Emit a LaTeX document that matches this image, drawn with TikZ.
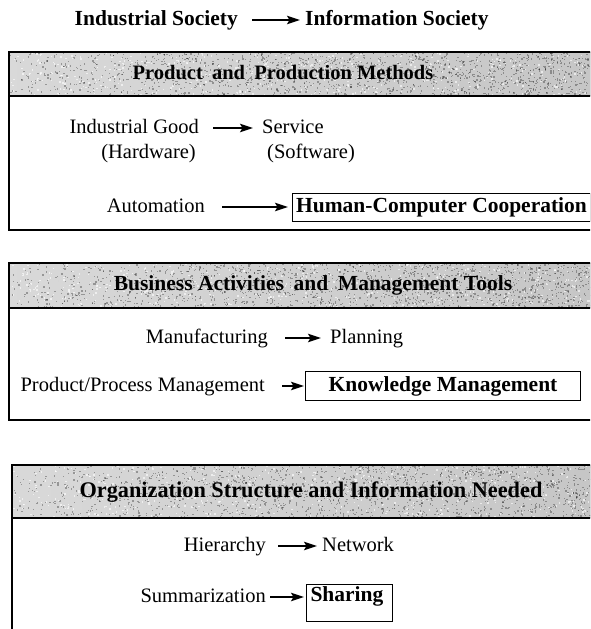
\documentclass[tikz,border=0pt]{standalone}
\usepackage{fontspec}
\setmainfont{Liberation Serif}
\usetikzlibrary{arrows.meta}

% grainy grey band behind a panel heading: #1 left x, #2 top y, #3 bottom y, #4 seed
\newcommand{\grainband}[4]{%
  \fill[left color=gray!30, middle color=gray!16, right color=gray!45]
    (#1,#2) rectangle (600,#3);
  \pgfmathsetseed{#4}%
  \foreach \k in {1,...,1600}{%
    \pgfmathsetmacro\px{#1+(590-#1)*(rnd^0.75)}%
    \pgfmathsetmacro\py{#2+(#3-#2)*rnd}%
    \fill[black, opacity=0.3] (\px,\py) rectangle ++(1.3,1.3);
  }%
  \foreach \k in {1,...,500}{%
    \pgfmathsetmacro\px{#1+(590-#1)*rnd}%
    \pgfmathsetmacro\py{#2+(#3-#2)*rnd}%
    \fill[white, opacity=0.6] (\px,\py) rectangle ++(1.5,1.5);
  }%
}

\begin{document}
\begin{tikzpicture}[x=1pt,y=-1pt,
  txt/.style={inner sep=0pt, font=\fontsize{20.5}{24}\selectfont,
              text height=14pt, text depth=4pt},
  btxt/.style={txt, font=\fontsize{21.5}{25}\selectfont\bfseries},
  lft/.style={txt, anchor=east},
  rgt/.style={txt, anchor=west},
  arr/.style={line width=1.4pt, -{Stealth[length=13pt,width=8.5pt,inset=2.5pt]}},
  keybox/.style={btxt, draw, line width=1pt, anchor=west},
  frame/.style={line width=1.8pt},
  rule/.style={line width=1.4pt},
]
\useasboundingbox (0,0) rectangle (590,629);
\clip (0,0) rectangle (590,629);

% ---- heading line ----
\node[btxt, anchor=east] (ind) at (238,20) {Industrial Society};
\node[btxt, anchor=west] (inf) at (305,20) {Information Society};
\draw[arr, shorten <=14pt, shorten >=5pt] (ind.east) -- (inf.west);

% ---- panel 1 ----
\grainband{9}{52}{96}{11}
\draw[frame] (9,52) rectangle (620,230);
\draw[rule] (9,96) -- (620,96);
\node[btxt, font=\fontsize{20.5}{24}\selectfont\bfseries] (h1) at (283,74)
  {Product\hspace{0.45em}and\hspace{0.45em}Production Methods};

\node[lft] (ig) at (199,128) {Industrial Good};
\node[rgt] (sv) at (262,128) {Service};
\draw[arr, shorten <=14pt, shorten >=9pt] (ig.east) -- (sv.west);
\node[lft] (hw) at (196,153) {(Hardware)};
\node[rgt] (sw) at (267,153) {(Software)};

\node[lft] (au) at (205,207) {Automation};
\node[keybox, minimum width=298pt, minimum height=28pt] (hcc) at (292,207)
  {Human-Computer Cooperation};
\draw[arr, shorten <=17pt, shorten >=4pt] (au.east) -- (hcc.west);

% ---- panel 2 ----
\grainband{9}{263}{308}{23}
\draw[frame] (9,263) rectangle (620,420);
\draw[rule] (9,308) -- (620,308);
\node[btxt] (h2) at (313,285) {Business Activities\hspace{0.45em}and\hspace{0.45em}Management Tools};

\node[lft] (mf) at (268,338) {Manufacturing};
\node[rgt] (pl) at (330,338) {Planning};
\draw[arr, shorten <=17pt, shorten >=9pt] (mf.east) -- (pl.west);

\node[lft] (ppm) at (265,386) {Product/Process Management};
\node[keybox, minimum width=275pt, minimum height=29pt] (km) at (305,386)
  {Knowledge Management};
\draw[arr, shorten <=17pt, shorten >=1pt] (ppm.east) -- (km.west);

% ---- panel 3 ----
\grainband{12}{465}{518}{37}
\draw[frame] (12,640) -- (12,465) -- (620,465);
\draw[rule] (12,518) -- (620,518);
\node[btxt, font=\fontsize{22.3}{26}\selectfont\bfseries] (h3) at (311,492)
  {Organization Structure and Information Needed};

\node[lft] (hi) at (266,546) {Hierarchy};
\node[rgt] (nw) at (322,546) {Network};
\draw[arr, shorten <=12pt, shorten >=5pt] (hi.east) -- (nw.west);

\node[lft] (su) at (266,597) {Summarization};
\node[btxt, draw, line width=1pt, anchor=north west, inner xsep=4pt,
      inner ysep=3pt, text width=78pt, align=left, text depth=17pt]
  (sh) at (306,584) {Sharing};
\draw[arr, shorten <=4pt, shorten >=2pt] (su.east) -- (su.east -| sh.west);
\end{tikzpicture}
\end{document}
